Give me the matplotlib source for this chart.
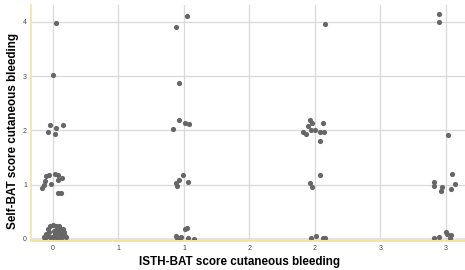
import matplotlib
matplotlib.use("Agg")
import matplotlib.pyplot as plt

# ISTH-BAT score (x, jittered) and Self-BAT score (y, jittered)
x0 = [0.023, -0.003, -0.023, -0.036, 0.023, 0.018, 0.074,
      -0.053, -0.031, 0.015, 0.038, 0.069, 0.038, -0.061, -0.015, -0.069, -0.084, 0.038, 0.061,
      -0.069, -0.046, -0.023, 0.0, 0.023, 0.046, 0.069, 0.092, -0.053, -0.031, 0.015, 0.038,
      0.061, 0.084, -0.038, 0.008, 0.031, 0.053, 0.076, -0.023, 0.0, 0.023, 0.046, 0.099, -0.061]
y0 = [3.98, 3.02, 2.10, 1.96, 2.05, 1.93, 2.09,
      1.15, 1.17, 1.19, 1.17, 1.13, 1.08, 1.06, 1.02, 0.99, 0.93, 0.84, 0.84,
      0.03, 0.05, 0.03, 0.03, 0.03, 0.03, 0.03, 0.05, 0.10, 0.12, 0.10, 0.12,
      0.10, 0.12, 0.18, 0.14, 0.19, 0.18, 0.18, 0.23, 0.25, 0.23, 0.23, 0.03, 0.01]

x1 = [1.02, 0.94, 0.96, 0.96, 0.92, 1.01, 1.04,
      0.99, 0.96, 0.94, 0.95, 1.03,
      1.02, 1.01, 0.94, 0.95, 0.97, 0.98, 1.03, 1.08]
y1 = [4.10, 3.91, 2.87, 2.19, 2.03, 2.14, 2.12,
      1.18, 1.09, 1.03, 0.98, 1.05,
      0.20, 0.18, 0.06, 0.02, 0.02, 0.03, 0.02, 0.00]

x2 = [2.08,
      1.96, 1.98, 2.06, 1.95, 1.97, 2.00, 1.91, 1.93, 2.04, 2.07, 2.04,
      2.04, 1.96, 1.98,
      1.97, 2.01, 2.06, 2.08]
y2 = [3.95,
      2.19, 2.14, 2.14, 2.08, 2.01, 2.01, 1.96, 1.94, 1.96, 1.96, 1.80,
      1.17, 1.03, 0.96,
      0.01, 0.06, 0.01, 0.01]

x3 = [2.95, 2.95, 3.02,
      3.05, 2.91, 2.91, 2.97, 2.96, 3.04, 3.07,
      2.91, 2.95, 3.00, 3.01, 3.04, 3.03]
y3 = [4.15, 3.99, 1.91,
      1.19, 1.04, 0.98, 0.96, 0.88, 0.92, 1.01,
      0.01, 0.03, 0.13, 0.10, 0.08, 0.01]

x_ticks = [0, 0.5, 1, 1.5, 2, 2.5, 3]
x_tick_labels = ["0", "1", "1", "2", "2", "3", "3"]
y_ticks = [0, 1, 2, 3, 4]

plt.rcParams['font.family'] = ['Liberation Sans', 'DejaVu Sans']

fig = plt.figure(figsize=(4.65, 2.7), dpi=100)
ax = fig.add_axes([0.0667, 0.115, 0.933, 0.867])

xs = x0 + x1 + x2 + x3
ys = y0 + y1 + y2 + y3
ax.scatter(xs, ys, s=14, color="#666666", linewidths=0, zorder=3)

ax.set_xlim(-0.168, 3.145)
ax.set_ylim(0, 4.31)
ax.set_xticks(x_ticks)
ax.set_xticklabels(x_tick_labels)
ax.set_yticks(y_ticks)
ax.tick_params(length=0, labelsize=5, colors="#444444", pad=3)
ax.grid(True, color="#d9d9d9", linewidth=0.9, zorder=0)
ax.set_axisbelow(True)
ax.axhline(0, color="#888888", linewidth=1.0, zorder=2)

for side in ["top", "right"]:
    ax.spines[side].set_visible(False)
ax.spines["left"].set_color("#f3e3a0")
ax.spines["left"].set_linewidth(1.2)
ax.spines["bottom"].set_color("#f3e3a0")
ax.spines["bottom"].set_linewidth(2.0)
ax.spines["bottom"].set_position(("outward", 1))

ax.set_xlabel("ISTH-BAT score cutaneous bleeding", fontsize=8.4, fontweight="bold")
ax.set_ylabel("Self-BAT score cutaneous bleeding", fontsize=8.4, fontweight="bold")
ax.xaxis.set_label_coords(0.48, -0.072)
ax.yaxis.set_label_coords(-0.027, 0.46)

fig.savefig("out.png", dpi=100)
